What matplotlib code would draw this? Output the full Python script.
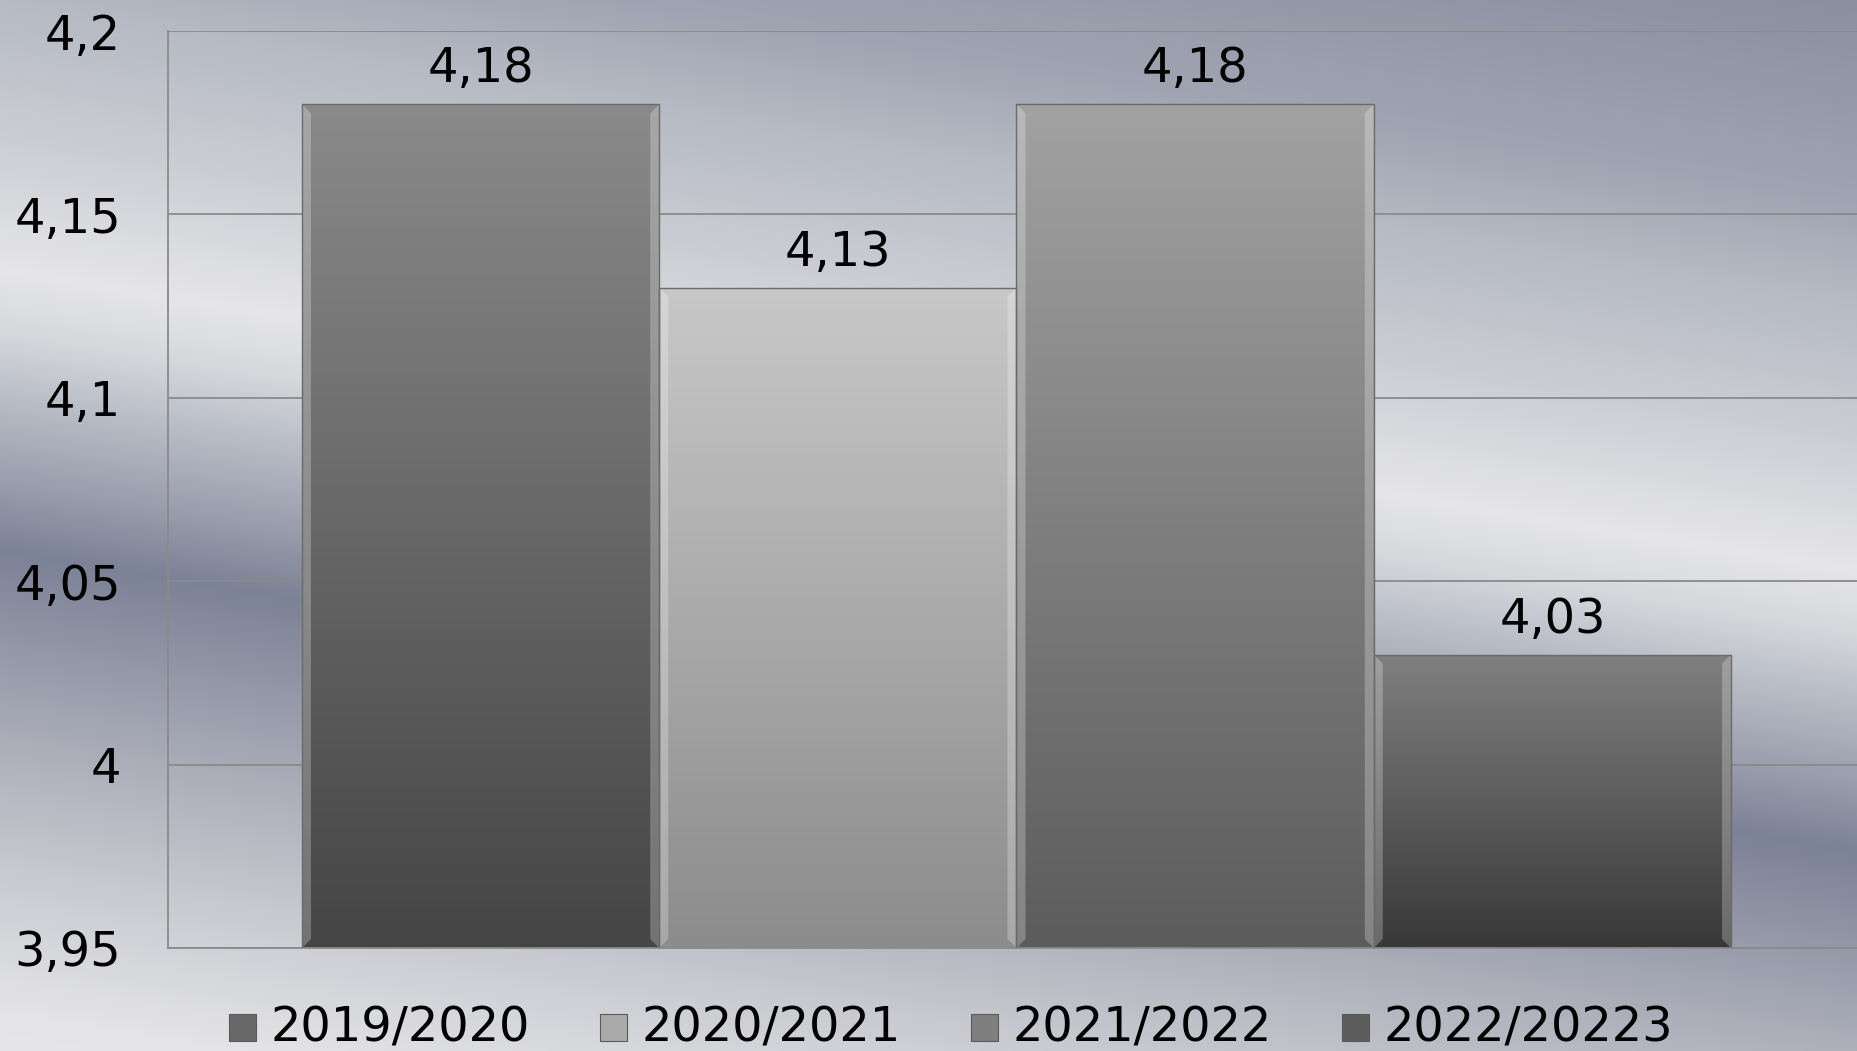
import numpy as np
import matplotlib.pyplot as plt
from matplotlib.colors import to_rgb
from matplotlib.patches import Rectangle, Polygon

# data
seasons = ['2019/2020', '2020/2021', '2021/2022', '2022/20223']
scores = [4.18, 4.13, 4.18, 4.03]
value_text = ['4,18', '4,13', '4,18', '4,03']
y_ticks = [3.95, 4.0, 4.05, 4.1, 4.15, 4.2]
y_tick_text = ['3,95', '4', '4,05', '4,1', '4,15', '4,2']

top_colors = ['#8a8a8a', '#c8c8c8', '#a2a2a2', '#808080']
bottom_colors = ['#454545', '#8c8c8c', '#5c5c5c', '#383838']

W, H = 1858, 1051
FS = 34.5
fig = plt.figure(figsize=(W / 100, H / 100), dpi=100)

# silver background with slanted bands
bg = fig.add_axes([0, 0, 1, 1], zorder=0)
yy, xx = np.mgrid[0:H, 0:W]
s = yy - 0.162 * xx
stops = [(-300, '#8a90a0'), (-100, '#a0a4b2'), (0, '#b6bac4'), (140, '#ccced4'),
         (270, '#e6e6e8'), (330, '#d6d8dc'), (400, '#b8bcc6'), (470, '#9ea2b0'),
         (550, '#7c8296'), (640, '#9296a6'), (740, '#abaeb9'), (870, '#c8cad0'),
         (1010, '#e4e4e6'), (1100, '#e8e8ea')]
pos = [p for p, _ in stops]
img = np.zeros((H, W, 3))
for c in range(3):
    img[..., c] = np.interp(s, pos, [to_rgb(col)[c] for _, col in stops])
bg.imshow(img, aspect='auto', extent=(0, 1, 0, 1), origin='upper')
bg.axis('off')

ax = fig.add_axes([168 / W, 1 - 948 / H, 1697 / W, 917 / H], zorder=1)
ax.set_facecolor('none')
ymin, ymax = 3.95, 4.2
x = np.arange(len(scores))

bars = ax.bar(x, scores, width=1.0, color='none', edgecolor='#6a6a6a', lw=1, zorder=3)
bw = 9 * 4.75 / 1697
bh = 9 * 0.25 / 917
for i, (b, v) in enumerate(zip(bars, scores)):
    c1, c2 = np.array(to_rgb(top_colors[i])), np.array(to_rgb(bottom_colors[i]))
    t = np.linspace(0, 1, 256)[:, None]
    grad = (c1 * (1 - t) + c2 * t)[:, None, :]
    x0, x1 = i - 0.5, i + 0.5
    im = ax.imshow(grad, aspect='auto', extent=(x0, x1, ymin, v), origin='upper', zorder=2)
    im.set_clip_path(b)
    for side in (0, 1):
        if side == 0:
            pts = [(x0, ymin), (x0, v), (x0 + bw, v - bh), (x0 + bw, ymin + bh)]
        else:
            pts = [(x1, ymin), (x1, v), (x1 - bw, v - bh), (x1 - bw, ymin + bh)]
        ax.add_patch(Polygon(pts, closed=True, fc='white', alpha=0.25, lw=0, zorder=2.5))
    ax.annotate(value_text[i], (i, v), xytext=(0, 22), textcoords='offset pixels',
                ha='center', va='baseline', fontsize=FS)

ax.set_xlim(-0.875, 3.875)
ax.set_ylim(ymin, ymax)
ax.set_yticks(y_ticks)
ax.set_yticklabels(y_tick_text, fontsize=FS)
ax.set_xticks([])
ax.tick_params(axis='y', length=0, pad=34)
ax.yaxis.grid(True, color='#8a8a8a', lw=1.3, zorder=1)
ax.set_axisbelow(True)
for sp in ['top', 'right']:
    ax.spines[sp].set_visible(False)
for sp in ['left', 'bottom']:
    ax.spines[sp].set_color('#8a8a8a')
    ax.spines[sp].set_linewidth(1.3)

# legend
marker_x = [229, 600, 971, 1342]
for i, name in enumerate(seasons):
    mid = (np.array(to_rgb(top_colors[i])) + np.array(to_rgb(bottom_colors[i]))) / 2
    fig.patches.append(Rectangle((marker_x[i] / W, 1 - 1041 / H), 27 / W, 27 / H,
                                 transform=fig.transFigure, fc=mid, ec='#5a5a5a', lw=0.8, zorder=2))
    fig.text((marker_x[i] + 42) / W, 1 - 1042 / H, name, fontsize=FS, va='baseline', ha='left', zorder=2)

fig.savefig('out.png', dpi=100)
